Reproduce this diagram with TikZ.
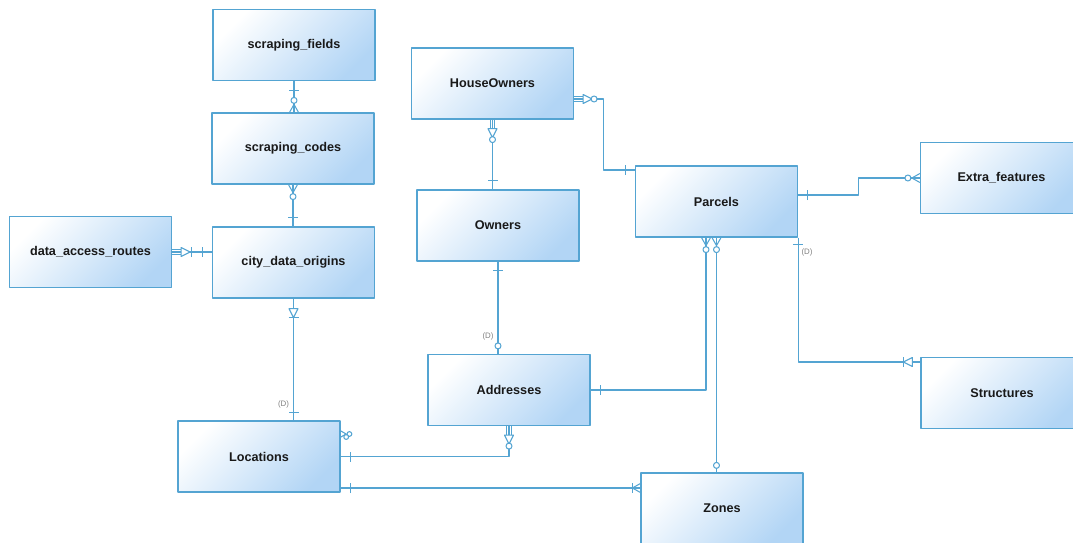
\documentclass[tikz,border=0pt]{standalone}
\usepackage{fontspec}
\setmainfont{Liberation Sans}
\usetikzlibrary{calc}
\definecolor{erline}{RGB}{84,164,210}
\definecolor{erfill}{RGB}{178,213,245}
\tikzset{
  ent/.style={draw=erline, line width=0.7pt, top color=white, bottom color=erfill, shading angle=45,
    minimum width=3.24cm, minimum height=1.42cm, inner sep=0pt, text=black!90,
    font=\bfseries\fontsize{7.2}{9}\selectfont},
  rel/.style={draw=erline, line width=0.6pt},
  dee/.style={font=\fontsize{4.5}{5}\selectfont, text=gray, inner sep=0pt},
  % end marks, drawn with the line leaving the box along +x
  pics/tick/.style={code={\draw[rel] (#1,-5) -- (#1,5);}},
  pics/ring/.style={code={\draw[rel, fill=white] (#1,0) circle (3);}},
  pics/crow/.style={code={\draw[rel] (0,4.5) -- (8,0) -- (0,-4.5);}},
  pics/dbl/.style={code={\draw[rel, line width=0.5pt] (0,2.2) -- (9,2.2) (0,0) -- (9,0) (0,-2.2) -- (9,-2.2);}},
  pics/tri/.style={code={\draw[rel, fill=white] (#1,4.5) -- ({#1+9},0) -- (#1,-4.5) -- cycle;}},
}
\begin{document}
\begin{tikzpicture}[x=0.02cm, y=0.02cm, line join=round]
	\def\W{1073} \def\H{542} % size in px
	\useasboundingbox (0,0) rectangle (\W,\H);
	\clip (0,0) rectangle (\W,\H);
	% entities
	\node[ent] (sfields) at (294,497) {scraping\_fields};
	\node[ent] (scodes) at (293,393.5) {scraping\_codes};
	\node[ent] (corigins) at (293.5,279.5) {city\_data\_origins};
	\node[ent] (daroutes) at (90.5,290) {data\_access\_routes};
	\node[ent] (locs) at (259,85.5) {Locations};
	\node[ent] (addrs) at (509,152) {Addresses};
	\node[ent] (owners) at (498,316.5) {Owners};
	\node[ent] (howners) at (492.5,458.5) {HouseOwners};
	\node[ent] (parcels) at (716.5,340.5) {Parcels};
	\node[ent] (xfeat) at (1001.5,364) {Extra\_features};
	\node[ent] (structs) at (1002,149) {Structures};
	\node[ent] (zones) at (722,33.5) {Zones};
	% relationships
	\draw[rel] (sfields.south) -- (sfields.south |- scodes.north) coordinate (fc);
	\draw[rel] (scodes.south) -- (scodes.south |- corigins.north) coordinate (co);
	\draw[rel] (daroutes.east) -- (daroutes.east -| corigins.west) coordinate (dc);
	\draw[rel] (corigins.south) -- (corigins.south |- locs.north) coordinate (cl);
	\draw[rel] (owners.south) -- (owners.south |- addrs.north) coordinate (oa);
	\draw[rel] (howners.south) -- (howners.south |- owners.north) coordinate (ho);
	\draw[rel] ($(howners.east)+(0,-15.5)$) coordinate (hp) -- ++(29,0) |- ($(parcels.west)+(0,31.5)$) coordinate (ph);
	\draw[rel] ($(parcels.east)+(0,6.5)$) coordinate (px) -- ++(60,0) |- (xfeat.west);
	\draw[rel] (parcels.south east) |- ($(structs.west)+(0,31)$) coordinate (sp);
	\draw[rel] ($(parcels.south)+(-10.5,0)$) coordinate (pa) |- (addrs.east);
	\draw[rel] (parcels.south) -- (parcels.south |- zones.north) coordinate (pz);
	\draw[rel] (addrs.south) |- (locs.east);
	\draw[rel] ($(locs.east)+(0,-31.5)$) coordinate (lz) -- (lz -| zones.west);
	% marks at the ends
	\pic[rotate=-90] at (sfields.south) {tick=9};
	\pic[rotate=90] at (fc) {crow}; \pic[rotate=90] at (fc) {ring=12};
	\pic[rotate=-90] at (scodes.south) {crow}; \pic[rotate=-90] at (scodes.south) {ring=12};
	\pic[rotate=90] at (co) {tick=9};
	\pic at (daroutes.east) {dbl}; \pic at (daroutes.east) {tri=9}; \pic at (daroutes.east) {tick=19};
	\pic[rotate=180] at (dc) {tick=9};
	\pic[rotate=-90] at (corigins.south) {tri=10}; \pic[rotate=-90] at (corigins.south) {tick=19};
	\pic[rotate=90] at (cl) {tick=8};
	\pic[rotate=-90] at (owners.south) {tick=9};
	\pic[rotate=90] at (oa) {ring=8};
	\pic[rotate=-90] at (howners.south) {dbl}; \pic[rotate=-90] at (howners.south) {tri=9};
	\pic[rotate=-90] at (howners.south) {ring=20};
	\pic[rotate=90] at (ho) {tick=9};
	\pic at (hp) {dbl}; \pic at (hp) {tri=9}; \pic at (hp) {ring=20};
	\pic[rotate=180] at (ph) {tick=9};
	\pic at (px) {tick=9};
	\pic[rotate=180] at (xfeat.west) {crow}; \pic[rotate=180] at (xfeat.west) {ring=12};
	\pic[rotate=-90] at (parcels.south east) {tick=7};
	\pic[rotate=180] at (sp) {tri=8}; \pic[rotate=180] at (sp) {tick=17};
	\pic[rotate=-90] at (pa) {crow}; \pic[rotate=-90] at (pa) {ring=12};
	\pic at (addrs.east) {tick=10};
	\pic[rotate=-90] at (parcels.south) {crow}; \pic[rotate=-90] at (parcels.south) {ring=12};
	\pic[rotate=90] at (pz) {ring=7};
	\pic[rotate=-90] at (addrs.south) {dbl}; \pic[rotate=-90] at (addrs.south) {tri=9};
	\pic[rotate=-90] at (addrs.south) {ring=20};
	\pic at (locs.east) {tick=10};
	\pic at (lz) {tick=10};
	\pic[rotate=180] at (lz -| zones.west) {crow}; \pic[rotate=180] at (lz -| zones.west) {tick=8};
	% self mark on Locations
	\coordinate (ls) at ($(locs.east)+(0,22.5)$);
	\pic[scale=0.7] at (ls) {crow}; \pic[scale=0.8] at (ls) {ring=11};
	\pic[scale=0.8] at ($(ls)+(0,-3)$) {ring=7};
	% (D) marks
	\node[dee] (dloc) at ($(cl)+(-10,16)$) {(D)};
	\node[dee] (daddr) at ($(oa)+(-10,17)$) {(D)};
	\node[dee] (dstr) at ($(parcels.south east)+(9,-15)$) {(D)};
\end{tikzpicture}
\end{document}
